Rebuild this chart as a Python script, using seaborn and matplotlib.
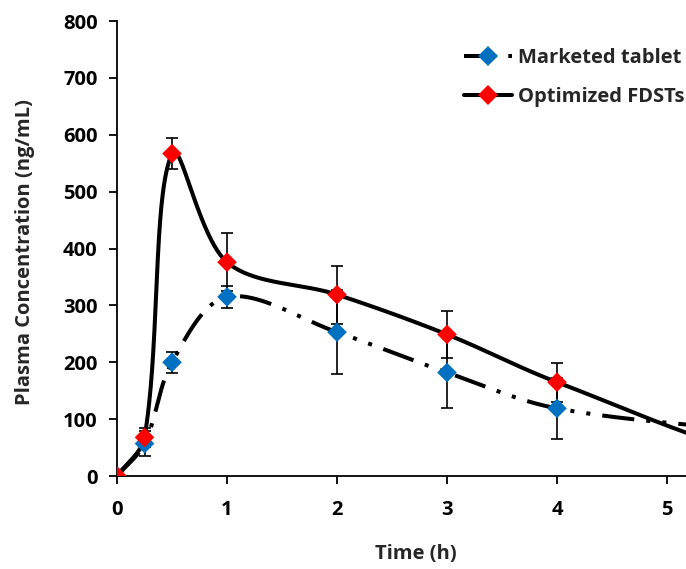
import numpy as np
import pandas as pd
import matplotlib
matplotlib.use("Agg")
import matplotlib.pyplot as plt
from matplotlib.lines import Line2D
import seaborn as sns

# ---- data ----
time_h = [0, 0.25, 0.5, 1, 2, 3, 4, 6, 8]
marketed = [0, 57, 200, 315, 253, 182, 119, 75, 30]
marketed_err = [0, 22, 18, 20, 74, 63, 54, 0, 0]
optimized = [0, 68, 567, 376, 319, 249, 165, 30, 10]
optimized_err = [0, 17, 27, 51, 51, 42, 34, 0, 0]
series_names = ["Marketed tablet", "Optimized FDSTs"]
x_ticks = [0, 1, 2, 3, 4, 5]
y_ticks = [0, 100, 200, 300, 400, 500, 600, 700, 800]

sns.set_style("ticks")
plt.rcParams['font.family'] = ['Open Sans', 'DejaVu Sans']
plt.rcParams['font.weight'] = 'bold'

XS, YS = 110.0, 0.569  # approx pixels per data unit, used for chord lengths


def excel_smooth(xs, ys, n=60):
    """Excel-like chord-scaled Bezier smoothing through the data points."""
    P = np.column_stack([np.asarray(xs, float) * XS, np.asarray(ys, float) * YS])
    m = len(P)
    d = np.hypot(*(P[1:] - P[:-1]).T)  # segment lengths
    out = [P[0]]
    for i in range(m - 1):
        p1, p2 = P[i], P[i + 1]
        if i == 0:
            c1 = p1 + (p2 - p1) / 3.0
        else:
            T = P[i + 1] - P[i - 1]
            c1 = p1 + T * d[i] / (d[i - 1] + d[i]) / 3.0
        if i + 2 >= m:
            c2 = p2 - (p2 - p1) / 3.0
        else:
            T = P[i + 2] - P[i]
            c2 = p2 - T * d[i] / (d[i] + d[i + 1]) / 3.0
        t = np.linspace(0, 1, n)[1:, None]
        seg = ((1 - t) ** 3) * p1 + 3 * ((1 - t) ** 2) * t * c1 + 3 * (1 - t) * t ** 2 * c2 + t ** 3 * p2
        out.extend(seg)
    out = np.array(out)
    return out[:, 0] / XS, out[:, 1] / YS


fig = plt.figure(figsize=(6.86, 5.69), dpi=100)
ax = fig.add_axes([0.1706, 0.1634, 0.8294, 0.7996])

blue = "#0070C0"
red = "#FF0000"
dash = (8, 3, 1, 3, 1, 3)

# smoothed curves
mx, my = excel_smooth(time_h, marketed)
ox, oy = excel_smooth(time_h, optimized)
curve_m = pd.DataFrame({"t": mx, "c": my})
curve_o = pd.DataFrame({"t": ox, "c": oy})
sns.lineplot(data=curve_m, x="t", y="c", sort=False, estimator=None, ax=ax,
             color="black", lw=2.9, zorder=2)
ax.lines[-1].set_dashes(dash)
sns.lineplot(data=curve_o, x="t", y="c", sort=False, estimator=None, ax=ax,
             color="black", lw=2.9, zorder=3)

# error bars
ax.errorbar(time_h, marketed, yerr=marketed_err, fmt="none", ecolor="black",
            elinewidth=1.2, capsize=4, capthick=1.2, zorder=4)
ax.errorbar(time_h, optimized, yerr=optimized_err, fmt="none", ecolor="black",
            elinewidth=1.2, capsize=4, capthick=1.2, zorder=4)

# markers
df = pd.DataFrame({
    "t": time_h + time_h,
    "c": marketed + optimized,
    "s": [series_names[0]] * len(time_h) + [series_names[1]] * len(time_h),
})
sns.scatterplot(data=df, x="t", y="c", hue="s", palette=[blue, red], marker="D",
                s=100, linewidth=0, ax=ax, zorder=5, legend=False)

ax.set_xlim(0, 5.173)
ax.set_ylim(0, 800)
ax.set_xticks(x_ticks)
ax.set_yticks(y_ticks)
ax.tick_params(axis="both", direction="out", length=6, width=1.3, labelsize=14.5, colors="black")
ax.tick_params(axis="x", pad=11)
ax.tick_params(axis="y", pad=8)
for lab in ax.get_xticklabels() + ax.get_yticklabels():
    lab.set_fontweight("bold")
for s in ["top", "right"]:
    ax.spines[s].set_visible(False)
for s in ["left", "bottom"]:
    ax.spines[s].set_linewidth(1.3)
    ax.spines[s].set_color("black")

ax.set_xlabel("Time (h)", fontsize=14.5, fontweight="bold")
ax.set_ylabel("Plasma Concentration (ng/mL)", fontsize=14.5, fontweight="bold")
ax.xaxis.set_label_coords(0.525, -0.15)
ax.yaxis.set_label_coords(-0.145, 0.492)

h1 = Line2D([], [], color="black", lw=2.9, dashes=dash, marker="D",
            markerfacecolor=blue, markeredgewidth=0, markersize=10)
h2 = Line2D([], [], color="black", lw=2.9, marker="D",
            markerfacecolor=red, markeredgewidth=0, markersize=10)
ax.legend([h1, h2], series_names, loc="upper right", bbox_to_anchor=(1.03, 0.98),
          frameon=False, prop={"size": 14.5, "weight": "bold"}, handlelength=2.4,
          handletextpad=0.3, labelspacing=0.95)

fig.savefig("out.png", dpi=100)
